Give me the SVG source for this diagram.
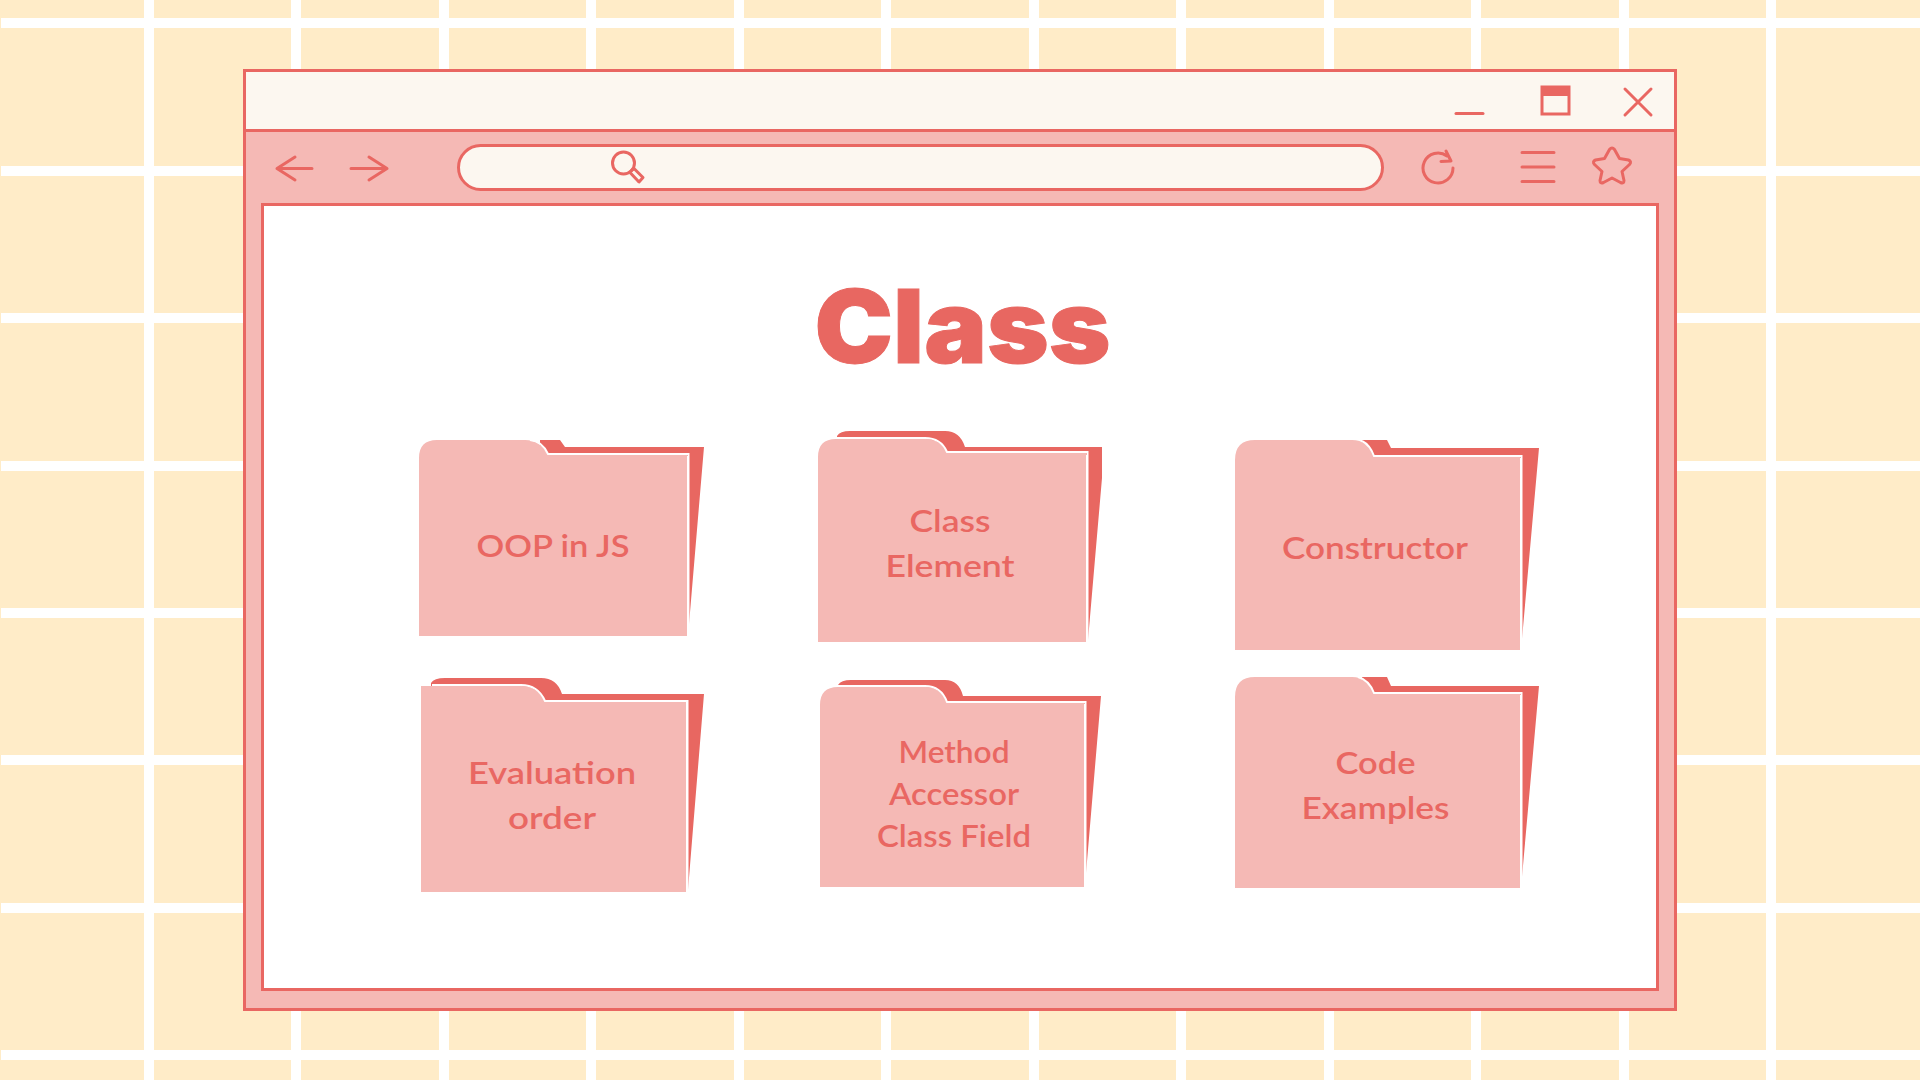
<svg xmlns="http://www.w3.org/2000/svg" width="1920" height="1080" viewBox="0 0 1920 1080">
<style>
.grid{stroke:#fff;stroke-width:10;fill:none}
.ln{fill:none;stroke:#e96762;stroke-width:3;stroke-linecap:round;stroke-linejoin:round}
.back{fill:#e86761}
.front{fill:#f5b9b5}
.edge{fill:none;stroke:#fff;stroke-width:2}
.lab{font-family:Lato,"Noto Sans",sans-serif;font-weight:600;font-size:31px;fill:#e96762;text-anchor:middle}
</style>
<rect width="1920" height="1080" fill="#ffecc8"/>
<g id="grid" class="grid">
<path d="M149 0V1080M296 0V1080M444 0V1080M591 0V1080M739 0V1080M886 0V1080M1034 0V1080M1181 0V1080M1329 0V1080M1476 0V1080M1624 0V1080M1771 0V1080"/>
<path d="M1 23H1920M1 171H1920M1 318H1920M1 466H1920M1 613H1920M1 760H1920M1 908H1920M1 1055H1920"/>
</g>
<g id="window">
<rect x="244.500" y="70.500" width="1431" height="939" fill="#f5b9b5" stroke="#e96762" stroke-width="3"/>
<rect x="244.500" y="70.500" width="1431" height="60" fill="#fcf7f0" stroke="#e96762" stroke-width="3"/>
<rect x="262.500" y="204.500" width="1395" height="785" fill="#fff" stroke="#e96762" stroke-width="3"/>
</g>
<g id="toolbar">
<path class="ln" d="M312 168.500H277M295 157L277 168.500L295 180"/>
<path class="ln" d="M351 168.500H387M369 157L387 168.500L369 180"/>
<rect x="458.500" y="145.500" width="924" height="44" rx="22" fill="#fcf7f0" stroke="#e96762" stroke-width="3"/>
<circle class="ln" cx="623.500" cy="163" r="11"/>
<path class="ln" d="M631 171L634 168.500L643 177.500L639 182L630.500 173"/>
<path class="ln" d="M1453 168A15 15 0 1 1 1447 156M1446 151L1451 161L1441 161.500"/>
<path class="ln" d="M1522 152.500H1554M1522 167H1554M1522 181.500H1554"/>
<path class="ln" d="M1604.500 158.500L1609.500 149.500Q1612 146.500 1614.500 149.500L1619.500 158.500L1628.500 160Q1632 161.500 1629.500 164.500L1622 171.500L1624 180.500Q1624 184 1620.500 182.500L1612 178L1603.500 182.500Q1600 184 1600 180.500L1602 171.500L1594.500 164.500Q1592 161.500 1595.500 160Z"/>
<path class="ln" d="M1456 113.500H1483"/>
<rect x="1542" y="87" width="27" height="27" fill="none" stroke="#e96762" stroke-width="3"/>
<rect x="1541" y="86" width="29" height="10" fill="#e96762"/>
<path class="ln" d="M1625 89L1651 115M1651 89L1625 115"/>
</g>
<text id="title" x="962.500" y="363" font-family="Inter,Roboto,sans-serif" font-weight="900" font-size="102" fill="#e86761" stroke="#e86761" stroke-width="1" text-anchor="middle" textLength="296" lengthAdjust="spacingAndGlyphs">Class</text>
<g id="folder-oop">
<path class="back" d="M540 440H560L565 447H704L688 636V456H540Z"/>
<path class="front" d="M419 636V458Q419 440 437 440H525Q541 440 548 455H687V636Z"/>
<path class="edge" d="M530 440Q542 441 548 454H688.500V636"/>
<text class="lab" x="553" y="557" textLength="153" lengthAdjust="spacingAndGlyphs">OOP in JS</text>
</g>
<g id="folder-class-element">
<path class="back" d="M837 436Q840 431 850 431H945Q960 431 965 447H1102V478L1088 640V455H837Z"/>
<path class="front" d="M818 642V457Q818 439 836 439H925Q941 439 947 453H1086V642Z"/>
<path class="edge" d="M836 438H925Q941 438 947 452H1087.500V640"/>
<text class="lab" x="950" y="532" textLength="81" lengthAdjust="spacingAndGlyphs">Class</text>
<text class="lab" x="950" y="577" textLength="129" lengthAdjust="spacingAndGlyphs">Element</text>
</g>
<g id="folder-constructor">
<path class="back" d="M1362 440H1387L1391 448H1539L1521 650V458H1362Z"/>
<path class="front" d="M1235 650V460Q1235 440 1255 440H1352Q1368 440 1374 457H1520V650Z"/>
<path class="edge" d="M1362 441Q1370 445 1374 456H1521.500V650"/>
<text class="lab" x="1375" y="559" textLength="186" lengthAdjust="spacingAndGlyphs">Constructor</text>
</g>
<g id="folder-evaluation">
<path class="back" d="M431 683Q434 678 445 678H541Q557 678 562 694H704L688 890V702H431Z"/>
<path class="front" d="M421 892V686H521Q538 686 545 702H686V892Z"/>
<path class="edge" d="M432 685H521Q538 685 545 701H687.500V890"/>
<text class="lab" x="552" y="784" textLength="168" lengthAdjust="spacingAndGlyphs">Evaluation</text>
<text class="lab" x="552" y="829" textLength="88" lengthAdjust="spacingAndGlyphs">order</text>
</g>
<g id="folder-method">
<path class="back" d="M838 685Q841 680 851 680H945Q959 680 963 696H1101L1085 885V704H838Z"/>
<path class="front" d="M820 887V705Q820 687 838 687H925Q941 687 947 703H1084V887Z"/>
<path class="edge" d="M838 686H925Q941 686 947 702H1085.500V885"/>
<text class="lab" x="954" y="763" textLength="111" lengthAdjust="spacingAndGlyphs">Method</text>
<text class="lab" x="954" y="805" textLength="130" lengthAdjust="spacingAndGlyphs">Accessor</text>
<text class="lab" x="954" y="847" textLength="154" lengthAdjust="spacingAndGlyphs">Class Field</text>
</g>
<g id="folder-code">
<path class="back" d="M1362 677H1387L1391 686H1539L1521 888V695H1362Z"/>
<path class="front" d="M1235 888V697Q1235 677 1255 677H1352Q1368 677 1374 694H1520V888Z"/>
<path class="edge" d="M1358 677Q1369 680 1374 693H1521.500V888"/>
<text class="lab" x="1375.500" y="774" textLength="80" lengthAdjust="spacingAndGlyphs">Code</text>
<text class="lab" x="1375.500" y="819" textLength="148" lengthAdjust="spacingAndGlyphs">Examples</text>
</g>
</svg>
